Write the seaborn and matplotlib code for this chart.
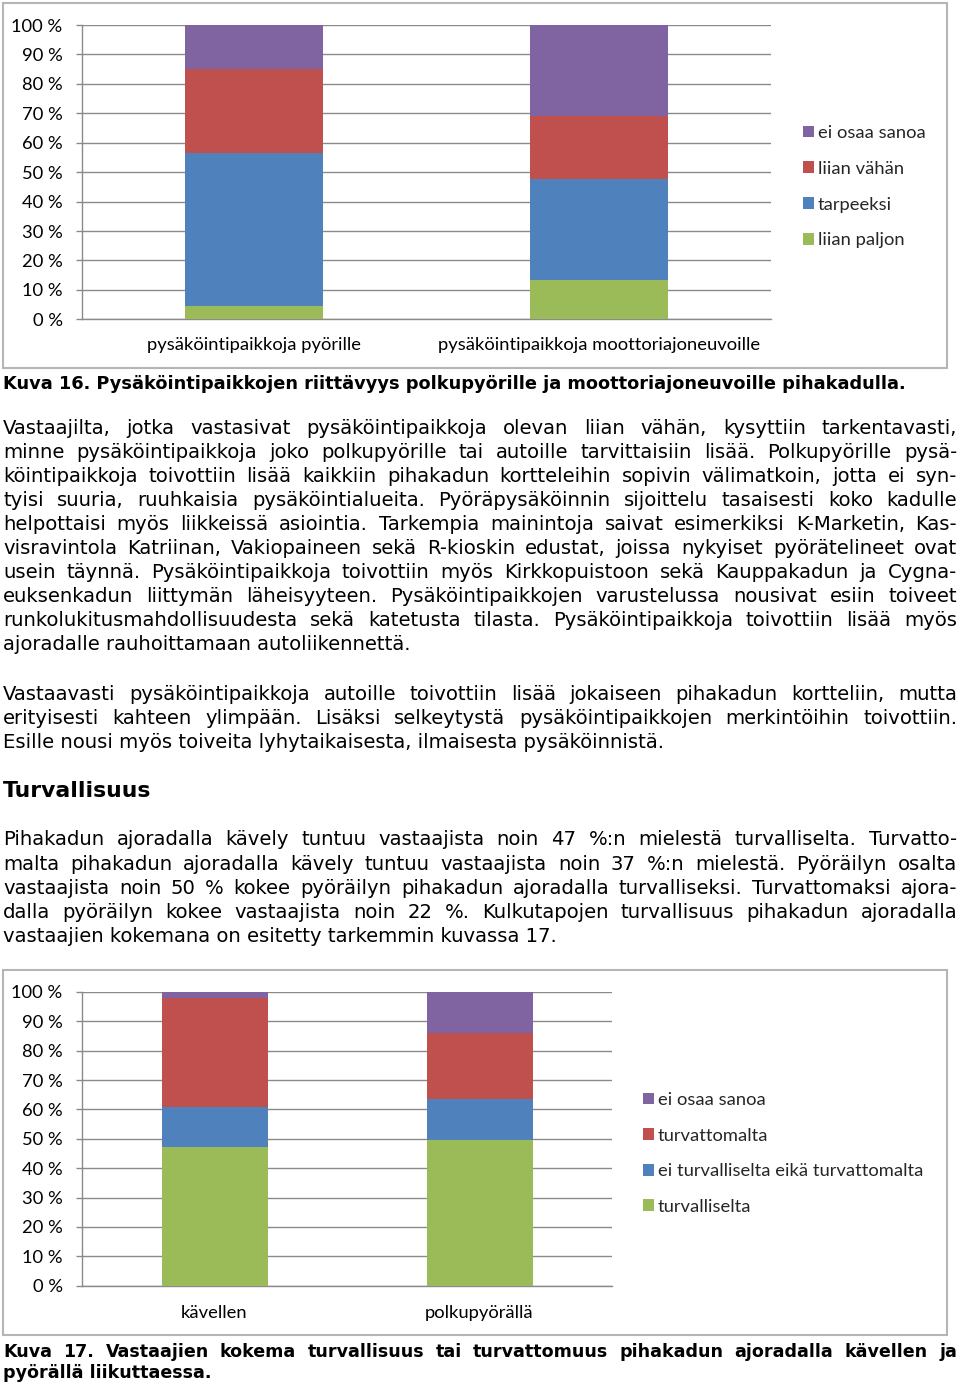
import numpy as np
import pandas as pd
import matplotlib
matplotlib.use("Agg")
import matplotlib.pyplot as plt
import seaborn as sns
from matplotlib.patches import Rectangle, Patch
from matplotlib.ticker import FixedLocator

# ---------------- data ----------------
c1_categories = ["pysäköintipaikkoja pyörille", "pysäköintipaikkoja moottoriajoneuvoille"]
c1_series = ["liian paljon", "tarpeeksi", "liian vähän", "ei osaa sanoa"]
c1_liian_paljon = [4.5, 13.4]
c1_tarpeeksi = [52.1, 34.2]
c1_liian_vahan = [28.3, 21.6]
c1_ei_osaa_sanoa = [15.1, 30.8]

c2_categories = ["kävellen", "polkupyörällä"]
c2_series = ["turvalliselta", "ei turvalliselta eikä turvattomalta", "turvattomalta", "ei osaa sanoa"]
c2_turvalliselta = [47.2, 49.6]
c2_ei_kumpikaan = [13.6, 13.9]
c2_turvattomalta = [37.0, 22.4]
c2_ei_osaa_sanoa = [2.2, 14.1]

y_ticks = [0, 10, 20, 30, 40, 50, 60, 70, 80, 90, 100]
y_tick_labels = [f"{v} %" for v in y_ticks]

series_colors = ["#9BBB59", "#4F81BD", "#C0504D", "#8064A2"]

caption16 = "Kuva 16. Pysäköintipaikkojen riittävyys polkupyörille ja moottoriajoneuvoille pihakadulla."
para1 = [
    "Vastaajilta, jotka vastasivat pysäköintipaikkoja olevan liian vähän, kysyttiin tarkentavasti,",
    "minne pysäköintipaikkoja joko polkupyörille tai autoille tarvittaisiin lisää. Polkupyörille pysä-",
    "köintipaikkoja toivottiin lisää kaikkiin pihakadun kortteleihin sopivin välimatkoin, jotta ei syn-",
    "tyisi suuria, ruuhkaisia pysäköintialueita. Pyöräpysäköinnin sijoittelu tasaisesti koko kadulle",
    "helpottaisi myös liikkeissä asiointia. Tarkempia mainintoja saivat esimerkiksi K-Marketin, Kas-",
    "visravintola Katriinan, Vakiopaineen sekä R-kioskin edustat, joissa nykyiset pyörätelineet ovat",
    "usein täynnä. Pysäköintipaikkoja toivottiin myös Kirkkopuistoon sekä Kauppakadun ja Cygna-",
    "euksenkadun liittymän läheisyyteen. Pysäköintipaikkojen varustelussa nousivat esiin toiveet",
    "runkolukitusmahdollisuudesta sekä katetusta tilasta. Pysäköintipaikkoja toivottiin lisää myös",
    "ajoradalle rauhoittamaan autoliikennettä.",
]
para2 = [
    "Vastaavasti pysäköintipaikkoja autoille toivottiin lisää jokaiseen pihakadun kortteliin, mutta",
    "erityisesti kahteen ylimpään. Lisäksi selkeytystä pysäköintipaikkojen merkintöihin toivottiin.",
    "Esille nousi myös toiveita lyhytaikaisesta, ilmaisesta pysäköinnistä.",
]
heading = "Turvallisuus"
para3 = [
    "Pihakadun ajoradalla kävely tuntuu vastaajista noin 47 %:n mielestä turvalliselta. Turvatto-",
    "malta pihakadun ajoradalla kävely tuntuu vastaajista noin 37 %:n mielestä. Pyöräilyn osalta",
    "vastaajista noin 50 % kokee pyöräilyn pihakadun ajoradalla turvalliseksi. Turvattomaksi ajora-",
    "dalla pyöräilyn kokee vastaajista noin 22 %. Kulkutapojen turvallisuus pihakadun ajoradalla",
    "vastaajien kokemana on esitetty tarkemmin kuvassa 17.",
]
caption17 = [
    "Kuva 17. Vastaajien kokema turvallisuus tai turvattomuus pihakadun ajoradalla kävellen ja",
    "pyörällä liikuttaessa.",
]

# ---------------- setup ----------------
sns.set_theme(style="white")
plt.rcParams["font.family"] = ["DejaVu Sans"]
W, H = 960, 1383
fig = plt.figure(figsize=(W / 100, H / 100), dpi=100)
fig.patch.set_facecolor("white")
renderer = fig.canvas.get_renderer()

BODY = ["DejaVu Sans"]
CHART = ["Lato", "DejaVu Sans"]
GRID = "#8a8a8a"


def text_width(s, size, family, weight="normal"):
    t = fig.text(0, 0, s, fontsize=size, family=family, weight=weight)
    w = t.get_window_extent(renderer).width
    t.remove()
    return w


def fit(s, target, family, weight="normal"):
    return 10 * target / text_width(s, 10, family, weight)


body_size = fit(para1[-1], 412, BODY)
bold_size = fit(caption17[1], 208, BODY, "bold")
cap16_size = fit(caption16, 902, BODY, "bold")
head_size = fit(heading, 147, BODY, "bold")
chart_size = fit(c1_categories[1], 323, CHART)


def put_line(s, base_y, size, weight="normal", justify=True, x0=3, x1=957):
    y = 1 - base_y / H
    if not justify:
        fig.text(x0 / W, y, s, fontsize=size, family=BODY, weight=weight,
                 va="baseline", ha="left", color="black")
        return
    words = s.split(" ")
    ws = [text_width(w, size, BODY, weight) for w in words]
    gap = (x1 - x0 - sum(ws)) / (len(words) - 1)
    x = x0
    for w, wd in zip(words, ws):
        fig.text(x / W, y, w, fontsize=size, family=BODY, weight=weight,
                 va="baseline", ha="left", color="black")
        x += wd + gap


def stacked_chart(rect_px, categories, series, values, legend_px, pitch, xpad):
    left, top, right, bottom = rect_px
    ax = fig.add_axes([left / W, 1 - bottom / H, (right - left) / W, (bottom - top) / H])
    cum = np.cumsum(np.array(values), axis=0)
    for i in reversed(range(len(series))):
        df = pd.DataFrame({"cat": categories, "val": cum[i]})
        sns.barplot(data=df, x="cat", y="val", order=categories, color=series_colors[i],
                    saturation=1, width=0.4, errorbar=None, linewidth=0, ax=ax, zorder=3)
    ax.set_xlim(-0.5, len(categories) - 0.5)
    ax.set_ylim(0, 100)
    ax.set_yticks(y_ticks)
    ax.set_yticklabels(y_tick_labels, fontsize=chart_size, family=CHART, color="black")
    ax.set_xticks(range(len(categories)))
    ax.set_xticklabels(categories, fontsize=chart_size, family=CHART, color="black")
    ax.xaxis.set_minor_locator(FixedLocator(np.arange(-0.5, len(categories), 1.0)))
    ax.tick_params(axis="x", which="major", length=0, pad=xpad)
    ax.tick_params(axis="x", which="minor", length=4.5, width=1, color=GRID, direction="out")
    ax.tick_params(axis="y", which="major", length=4.5, width=1, color=GRID, direction="out", pad=9.5, left=True)
    ax.set_xlabel("")
    ax.set_ylabel("")
    ax.yaxis.grid(True, color=GRID, linewidth=1, zorder=0)
    ax.set_axisbelow(True)
    for s in ["top", "right"]:
        ax.spines[s].set_visible(False)
    for s in ["left", "bottom"]:
        ax.spines[s].set_color(GRID)
        ax.spines[s].set_linewidth(1)
    ax.set_facecolor("white")
    handles = [Patch(facecolor=series_colors[i], edgecolor="none") for i in reversed(range(len(series)))]
    labels = [series[i] for i in reversed(range(len(series)))]
    lx, ly = legend_px
    fsz_px = chart_size * 100 / 72
    fig.legend(handles, labels, loc="upper left", bbox_to_anchor=(lx / W, 1 - ly / H),
               frameon=False, prop={"family": CHART, "size": chart_size},
               handlelength=0.62, handleheight=0.62, handletextpad=0.2,
               labelspacing=(pitch - 0.88 * fsz_px) / fsz_px,
               borderpad=0, borderaxespad=0)
    return ax


# chart frames
for (x0, y0, x1, y1) in [(3, 3, 947, 368), (3, 970, 947, 1335)]:
    fig.patches.append(Rectangle((x0 / W, 1 - y1 / H), (x1 - x0) / W, (y1 - y0) / H,
                                 transform=fig.transFigure, fill=False,
                                 edgecolor="#b5b5b5", linewidth=1.5))

stacked_chart((82, 25, 771, 319.3), c1_categories, c1_series,
              [c1_liian_paljon, c1_tarpeeksi, c1_liian_vahan, c1_ei_osaa_sanoa],
              (803, 125), 36, 13)
stacked_chart((82, 992, 612, 1285.7), c2_categories, c2_series,
              [c2_turvalliselta, c2_ei_kumpikaan, c2_turvattomalta, c2_ei_osaa_sanoa],
              (643, 1092), 35.7, 14)

# texts
put_line(caption16, 389, cap16_size, "bold", justify=False)
y = 434
for i, ln in enumerate(para1):
    put_line(ln, y + 24 * i, body_size, justify=(i < len(para1) - 1))
y = 699.5
for i, ln in enumerate(para2):
    put_line(ln, y + 24 * i, body_size, justify=(i < len(para2) - 1))
put_line(heading, 797, head_size, "bold", justify=False)
y = 845.5
for i, ln in enumerate(para3):
    put_line(ln, y + 24 * i, body_size, justify=(i < len(para3) - 1))
put_line(caption17[0], 1357, bold_size, "bold", justify=True)
put_line(caption17[1], 1378, bold_size, "bold", justify=False)

fig.savefig("out.png", dpi=100, facecolor="white")
